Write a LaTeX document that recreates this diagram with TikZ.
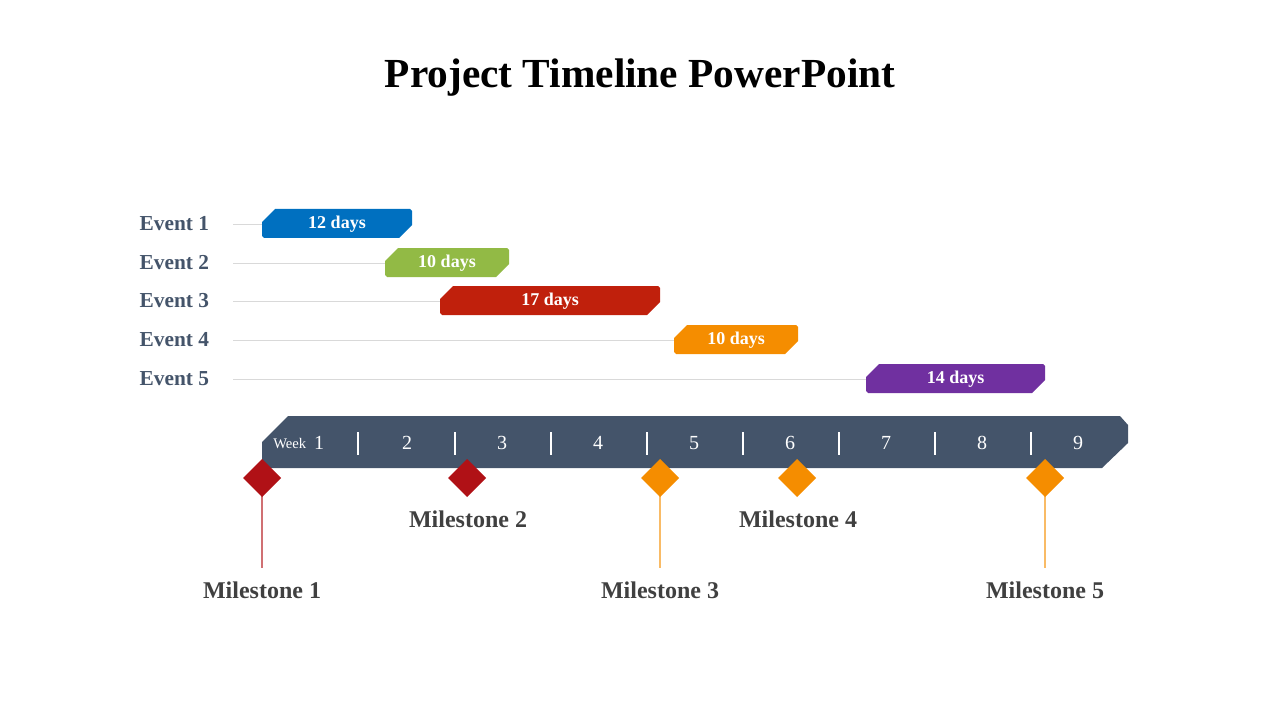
\documentclass[tikz,border=0pt]{standalone}
\usepackage{fontspec}
\setmainfont{Liberation Serif}
\begin{document}
\begin{tikzpicture}[x=0.75pt,y=-0.75pt,
  evlab/.style={anchor=west,text=evc,font=\bfseries\fontsize{16}{18}\selectfont},
  barlab/.style={text=white,font=\bfseries\fontsize{13.5}{15}\selectfont},
  grid/.style={draw=black!15,line width=0.6pt},
  wk/.style={text=white,font=\fontsize{15}{17}\selectfont},
  sep/.style={draw=white,line width=0.8pt},
  dia/.style={fill=#1},
  ms/.style={text=msc,font=\bfseries\fontsize{18}{20}\selectfont},
  stem/.style={draw=#1,line width=1pt}]
\definecolor{evc}{HTML}{44546A}
\definecolor{msc}{HTML}{404040}
\definecolor{cb}{HTML}{0070C0}
\definecolor{cg}{HTML}{92BA45}
\definecolor{cr}{HTML}{C0200C}
\definecolor{co}{HTML}{F58D00}
\definecolor{cp}{HTML}{7030A0}
\definecolor{cd}{HTML}{B01116}
\useasboundingbox (0,0) rectangle (1280,720);
\node[font=\bfseries\fontsize{31}{34}\selectfont] (title) at (640,78) {Project Timeline PowerPoint};
% events
\foreach \i/\y/\a/\b/\c/\t in {1/224/262/412/cb/12 days,2/263/385/509/cg/10 days,3/301/440/660/cr/17 days,4/340/674/798/co/10 days,5/379/866/1045/cp/14 days}{
  \node[evlab] (ev\i) at (135,\y) {Event \i};
  \coordinate (gs\i) at (233,\y);
  \coordinate (ge\i) at (\a,\y);
  \draw[grid] (gs\i) -- (ge\i);
  \fill[\c] (\a,\y-2) -- (\a+13,\y-15) -- (\b-2,\y-15) -- (\b,\y-13) -- (\b,\y+1) -- (\b-13,\y+14) -- (\a+2,\y+14) -- (\a,\y+12) -- cycle;
  \node[barlab] (bl\i) at ({(\a+\b)/2},\y) {\t};
}
% week bar
\fill[evc] (262,442) -- (288,416) -- (1120,416) -- (1128,425) -- (1128,443) -- (1102,468) -- (262,468) -- cycle;
\foreach \x in {358,455,551,647,743,839,935,1031}{\draw[sep] (\x,432) -- (\x,455);}
\node[text=white,font=\fontsize{11}{13}\selectfont,anchor=base east] (wkw) at (311,448) {Week};
\foreach \n/\x in {1/319,2/407,3/502,4/598,5/694,6/790,7/886,8/982,9/1078}{\node[wk] (w\n) at (\x,443) {\n};}
% milestones
\draw[stem=cd!60] (262,478) -- (262,568);
\draw[stem=co!60] (660,478) -- (660,568);
\draw[stem=co!60] (1045,478) -- (1045,568);
\foreach \i/\x/\c in {1/262/cd,2/467/cd,3/660/co,4/797/co,5/1045/co}{
  \fill[\c] (\x,459) -- (\x+19,478) -- (\x,497) -- (\x-19,478) -- cycle;}
\node[ms] (m1) at (262,590) {Milestone 1};
\node[ms] (m2) at (468,519) {Milestone 2};
\node[ms] (m3) at (660,590) {Milestone 3};
\node[ms] (m4) at (798,519) {Milestone 4};
\node[ms] (m5) at (1045,590) {Milestone 5};
\end{tikzpicture}
\end{document}
